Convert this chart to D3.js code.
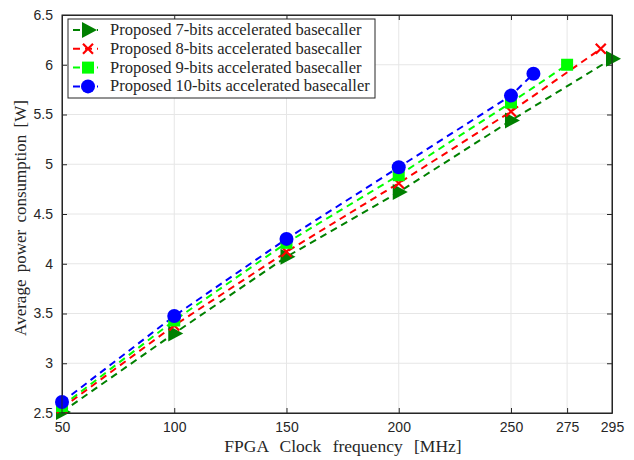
<!DOCTYPE html>
<html>
<head>
<meta charset="utf-8">
<script src="https://cdn.jsdelivr.net/npm/d3@7"></script>
<style>
  body { margin: 0; background: #fff; }
  text { fill: #262626; }
</style>
</head>
<body>
<svg id="chart" width="634" height="460"></svg>
<script>
const xTicks = [50, 100, 150, 200, 250, 275, 295];
const yTicks = [2.5, 3, 3.5, 4, 4.5, 5, 5.5, 6, 6.5];

const freq7 = [50, 100, 150, 200, 250, 295];
const power7 = [2.51, 3.30, 4.07, 4.72, 5.44, 6.06];
const freq8 = [50, 100, 150, 200, 250, 290];
const power8 = [2.55, 3.38, 4.12, 4.81, 5.53, 6.16];
const freq9 = [50, 100, 150, 200, 250, 275];
const power9 = [2.57, 3.43, 4.21, 4.89, 5.62, 6.0];
const freq10 = [50, 100, 150, 200, 250, 260];
const power10 = [2.61, 3.475, 4.25, 4.97, 5.69, 5.91];

const seriesNames = [
  'Proposed 7-bits accelerated basecaller',
  'Proposed 8-bits accelerated basecaller',
  'Proposed 9-bits accelerated basecaller',
  'Proposed 10-bits accelerated basecaller'
];

const series = [
  { name: seriesNames[0], x: freq7, y: power7, color: '#008000', marker: 'triangle' },
  { name: seriesNames[1], x: freq8, y: power8, color: '#ff0000', marker: 'cross' },
  { name: seriesNames[2], x: freq9, y: power9, color: '#00ff00', marker: 'square' },
  { name: seriesNames[3], x: freq10, y: power10, color: '#0000ff', marker: 'circle' }
];

let svg = d3.select('#chart');
const plotLeft = 62, plotRight = 612, plotTop = 15, plotBottom = 413;
const serif = '"Liberation Serif", "DejaVu Serif", serif';

let x = d3.scaleLinear().domain([50, 295]).range([plotLeft, plotRight]);
let y = d3.scaleLinear().domain([2.5, 6.5]).range([plotBottom, plotTop]);

// grid
let grid = svg.append('g');
grid.selectAll('line.vx')
  .data(xTicks)
  .enter()
  .append('line')
  .attr('x1', d => x(d)).attr('x2', d => x(d))
  .attr('y1', plotTop).attr('y2', plotBottom)
  .attr('stroke', '#e6e6e6');
grid.selectAll('line.hy')
  .data(yTicks)
  .enter()
  .append('line')
  .attr('x1', plotLeft).attr('x2', plotRight)
  .attr('y1', d => y(d)).attr('y2', d => y(d))
  .attr('stroke', '#e6e6e6');

// axes
let axisStyle = g => {
  g.selectAll('path.domain').attr('stroke', '#262626');
  g.selectAll('.tick line').attr('stroke', '#262626');
  g.selectAll('.tick text')
    .style('font-family', '"Liberation Sans", Arial, sans-serif')
    .style('font-size', '14px')
    .attr('fill', '#262626');
};

svg.append('g')
  .attr('transform', `translate(0,${plotBottom})`)
  .call(d3.axisBottom(x).tickValues(xTicks).tickSizeInner(-5).tickSizeOuter(0).tickPadding(9))
  .call(axisStyle);
svg.append('g')
  .attr('transform', `translate(0,${plotTop})`)
  .call(d3.axisTop(x).tickValues(xTicks).tickSizeInner(-5).tickSizeOuter(0).tickFormat(''))
  .call(axisStyle);
svg.append('g')
  .attr('transform', `translate(${plotLeft},0)`)
  .call(d3.axisLeft(y).tickValues(yTicks).tickSizeInner(-5).tickSizeOuter(0).tickPadding(9).tickFormat(d3.format('')))
  .call(axisStyle);
svg.append('g')
  .attr('transform', `translate(${plotRight},0)`)
  .call(d3.axisRight(y).tickValues(yTicks).tickSizeInner(-5).tickSizeOuter(0).tickFormat(''))
  .call(axisStyle);

// lines and markers
let line = d3.line().x(d => x(d[0])).y(d => y(d[1]));

function drawMarker(g, type, color) {
  if (type === 'triangle') {
    g.append('path').attr('d', 'M-6,-8 L9,0 L-6,8 Z').attr('fill', color);
  } else if (type === 'cross') {
    g.append('path').attr('d', 'M-5,-5 L5,5 M-5,5 L5,-5')
      .attr('stroke', color).attr('stroke-width', 2.2).attr('fill', 'none');
  } else if (type === 'square') {
    g.append('rect').attr('x', -6).attr('y', -6).attr('width', 12).attr('height', 12).attr('fill', color);
  } else {
    g.append('circle').attr('r', 7).attr('fill', color);
  }
}

for (let s of series) {
  let pts = s.x.map((v, i) => [v, s.y[i]]);
  svg.append('path')
    .attr('d', line(pts))
    .attr('fill', 'none')
    .attr('stroke', s.color)
    .attr('stroke-width', 2)
    .attr('stroke-dasharray', '7,5');
}
for (let s of series) {
  let pts = s.x.map((v, i) => [v, s.y[i]]);
  svg.append('g')
    .selectAll('g')
    .data(pts)
    .enter()
    .append('g')
    .attr('transform', d => `translate(${x(d[0])},${y(d[1])})`)
    .each(function () { drawMarker(d3.select(this), s.marker, s.color); });
}

// box
svg.append('rect')
  .attr('x', plotLeft).attr('y', plotTop)
  .attr('width', plotRight - plotLeft).attr('height', plotBottom - plotTop)
  .attr('fill', 'none').attr('stroke', '#262626');

// axis labels
svg.append('text')
  .attr('x', (plotLeft + plotRight) / 2 + 6)
  .attr('y', 452)
  .attr('text-anchor', 'middle')
  .style('font-family', serif)
  .style('font-size', '17.5px')
  .style('word-spacing', '7px')
  .text('FPGA Clock frequency [MHz]');

svg.append('text')
  .attr('transform', `translate(26,${(plotTop + plotBottom) / 2 + 4}) rotate(-90)`)
  .attr('text-anchor', 'middle')
  .style('font-family', serif)
  .style('font-size', '17px')
  .style('word-spacing', '3px')
  .text('Average power consumption [W]');

// legend
let legend = svg.append('g').attr('transform', 'translate(68,19)');
legend.append('rect')
  .attr('width', 307).attr('height', 79)
  .attr('fill', '#fff').attr('stroke', '#262626');

let item = legend.selectAll('g.item')
  .data(series)
  .enter()
  .append('g')
  .attr('class', 'item')
  .attr('transform', (d, i) => `translate(0,${11 + i * 18.8})`);

item.append('line')
  .attr('x1', 5).attr('x2', 30)
  .attr('stroke', d => d.color)
  .attr('stroke-width', 2)
  .attr('stroke-dasharray', '7,5');
item.each(function (d) {
  let g = d3.select(this).append('g').attr('transform', 'translate(20,0)');
  drawMarker(g, d.marker, d.color);
});
item.append('text')
  .attr('x', 42)
  .attr('y', 5)
  .style('font-family', serif)
  .style('font-size', '16.5px')
  .text(d => d.name);
</script>
</body>
</html>
